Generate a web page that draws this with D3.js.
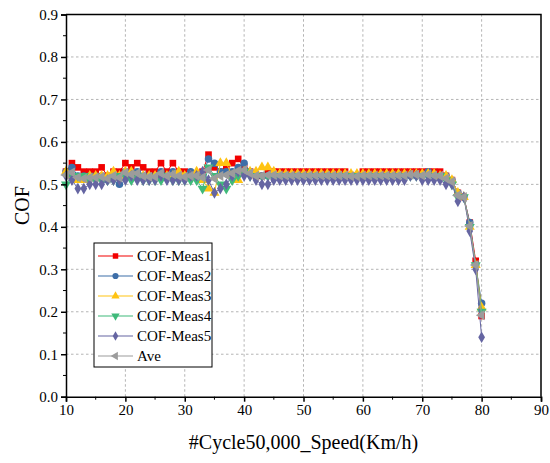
<!DOCTYPE html>
<html lang="en">
<head>
<meta charset="UTF-8">
<title>COF</title>
<style>
    body { margin: 0; background: #fff; }
    svg { display: block; }
</style>
</head>
<body>
<script src="https://d3js.org/d3.v7.min.js"></script>
<script>
    const width = 550
    const height = 463
    const margin = { left: 66, right: 9, top: 14.5, bottom: 66.3 }
    const serif = 'Liberation Serif, Times New Roman, serif'

    // speeds 10..80 km/h, one point per km/h
    const speeds = [10, 11, 12, 13, 14, 15, 16, 17, 18, 19, 20, 21, 22, 23, 24, 25, 26, 27, 28, 29,
        30, 31, 32, 33, 34, 35, 36, 37, 38, 39, 40, 41, 42, 43, 44, 45, 46, 47, 48, 49,
        50, 51, 52, 53, 54, 55, 56, 57, 58, 59, 60, 61, 62, 63, 64, 65, 66, 67, 68, 69,
        70, 71, 72, 73, 74, 75, 76, 77, 78, 79, 80]

    const meas1 = [0.53, 0.55, 0.54, 0.53, 0.53, 0.53, 0.54, 0.52, 0.53, 0.53, 0.55, 0.54, 0.55, 0.54, 0.53, 0.53, 0.55, 0.53, 0.55, 0.53,
        0.53, 0.52, 0.52, 0.53, 0.57, 0.54, 0.53, 0.54, 0.55, 0.56, 0.54, 0.53, 0.52, 0.52, 0.53, 0.53, 0.53, 0.53, 0.53, 0.53,
        0.53, 0.53, 0.53, 0.53, 0.53, 0.53, 0.53, 0.53, 0.52, 0.52, 0.53, 0.53, 0.53, 0.53, 0.53, 0.53, 0.53, 0.53, 0.53, 0.53,
        0.53, 0.53, 0.53, 0.53, 0.52, 0.51, 0.48, 0.47, 0.41, 0.32, 0.19]
    const meas2 = [0.53, 0.54, 0.52, 0.52, 0.52, 0.52, 0.52, 0.51, 0.52, 0.50, 0.53, 0.52, 0.53, 0.52, 0.52, 0.52, 0.53, 0.52, 0.53, 0.52,
        0.52, 0.53, 0.52, 0.52, 0.56, 0.55, 0.53, 0.53, 0.53, 0.54, 0.55, 0.53, 0.52, 0.52, 0.52, 0.52, 0.52, 0.52, 0.52, 0.52,
        0.52, 0.52, 0.52, 0.52, 0.52, 0.52, 0.52, 0.52, 0.52, 0.52, 0.52, 0.52, 0.52, 0.52, 0.52, 0.52, 0.52, 0.52, 0.52, 0.52,
        0.52, 0.53, 0.52, 0.52, 0.52, 0.51, 0.48, 0.47, 0.41, 0.31, 0.22]
    const meas3 = [0.53, 0.52, 0.51, 0.51, 0.52, 0.52, 0.52, 0.52, 0.53, 0.52, 0.53, 0.53, 0.52, 0.52, 0.52, 0.52, 0.52, 0.52, 0.52, 0.53,
        0.52, 0.52, 0.53, 0.51, 0.49, 0.48, 0.55, 0.55, 0.52, 0.51, 0.53, 0.53, 0.53, 0.54, 0.54, 0.53, 0.525, 0.525, 0.525, 0.525,
        0.525, 0.525, 0.525, 0.525, 0.525, 0.525, 0.525, 0.525, 0.525, 0.525, 0.525, 0.525, 0.525, 0.525, 0.525, 0.525, 0.525, 0.525, 0.525, 0.525,
        0.525, 0.525, 0.525, 0.52, 0.52, 0.51, 0.48, 0.47, 0.40, 0.31, 0.21]
    const meas4 = [0.50, 0.52, 0.52, 0.52, 0.51, 0.51, 0.51, 0.51, 0.51, 0.52, 0.52, 0.51, 0.52, 0.51, 0.51, 0.51, 0.51, 0.52, 0.51, 0.51,
        0.51, 0.51, 0.51, 0.49, 0.54, 0.52, 0.50, 0.49, 0.51, 0.52, 0.53, 0.52, 0.52, 0.52, 0.52, 0.52, 0.52, 0.52, 0.52, 0.52,
        0.52, 0.52, 0.52, 0.52, 0.52, 0.52, 0.52, 0.52, 0.52, 0.52, 0.52, 0.52, 0.52, 0.52, 0.52, 0.52, 0.52, 0.52, 0.52, 0.52,
        0.52, 0.52, 0.52, 0.52, 0.51, 0.50, 0.47, 0.47, 0.40, 0.31, 0.20]
    const meas5 = [0.52, 0.51, 0.49, 0.49, 0.50, 0.50, 0.50, 0.51, 0.51, 0.51, 0.51, 0.52, 0.51, 0.51, 0.51, 0.51, 0.52, 0.51, 0.51, 0.51,
        0.51, 0.52, 0.52, 0.53, 0.51, 0.48, 0.49, 0.50, 0.52, 0.53, 0.52, 0.52, 0.51, 0.50, 0.50, 0.51, 0.51, 0.51, 0.51, 0.51,
        0.51, 0.51, 0.51, 0.51, 0.51, 0.51, 0.51, 0.51, 0.51, 0.51, 0.51, 0.51, 0.51, 0.51, 0.51, 0.51, 0.51, 0.51, 0.52, 0.52,
        0.51, 0.51, 0.51, 0.51, 0.50, 0.50, 0.46, 0.47, 0.39, 0.30, 0.14]
    const ave = [0.522, 0.528, 0.516, 0.514, 0.516, 0.516, 0.518, 0.514, 0.520, 0.516, 0.528, 0.524, 0.526, 0.520, 0.518, 0.518, 0.526, 0.520, 0.524, 0.520,
        0.518, 0.520, 0.520, 0.516, 0.534, 0.514, 0.520, 0.522, 0.526, 0.532, 0.534, 0.526, 0.520, 0.520, 0.522, 0.522, 0.521, 0.521, 0.521, 0.521,
        0.521, 0.521, 0.521, 0.521, 0.521, 0.521, 0.521, 0.521, 0.519, 0.519, 0.521, 0.521, 0.521, 0.521, 0.521, 0.521, 0.521, 0.521, 0.523, 0.523,
        0.521, 0.523, 0.521, 0.520, 0.514, 0.506, 0.474, 0.470, 0.402, 0.310, 0.192]

    const seriesNames = ['COF-Meas1', 'COF-Meas2', 'COF-Meas3', 'COF-Meas4', 'COF-Meas5', 'Ave']
    const seriesValues = [meas1, meas2, meas3, meas4, meas5, ave]
    const colors = ['#f20000', '#3d6ea8', '#ffc312', '#3fba7a', '#6565a2', '#9c9c9c']
    const shapes = ['square', 'circle', 'up', 'down', 'diamond', 'left']

    const xTicks = [10, 20, 30, 40, 50, 60, 70, 80, 90]
    const yTicks = [0.0, 0.1, 0.2, 0.3, 0.4, 0.5, 0.6, 0.7, 0.8, 0.9]

    const x = d3.scaleLinear().domain([10, 90]).range([margin.left, width - margin.right])
    const y = d3.scaleLinear().domain([0, 0.9]).range([height - margin.bottom, margin.top])

    const svg = d3.select('body').append('svg')
        .attr('width', width)
        .attr('height', height)
        .attr('font-family', serif)

    drawGrid()
    drawSeries()
    drawAxes()
    drawLegend()

    function markerPath(shape, size) {
        switch (shape) {
            case 'square': return d3.symbol().type(d3.symbolSquare).size(size)()
            case 'circle': return d3.symbol().type(d3.symbolCircle).size(size)()
            case 'diamond': return d3.symbol().type(d3.symbolDiamond).size(size * 0.9)()
            default: return d3.symbol().type(d3.symbolTriangle).size(size)()
        }
    }

    function markerRotate(shape) {
        if (shape === 'down') return 180
        if (shape === 'left') return -90
        return 0
    }

    function drawGrid() {
        const g = svg.append('g').attr('class', 'grid')
            .attr('stroke', '#b4b4b4')
            .attr('stroke-width', 1)
            .attr('stroke-dasharray', '2.5,2.5')
        g.selectAll('.gx')
            .data(xTicks.slice(1, -1))
            .join('line')
            .attr('class', 'gx')
            .attr('x1', d => x(d)).attr('x2', d => x(d))
            .attr('y1', y(0)).attr('y2', y(0.9))
        g.selectAll('.gy')
            .data(yTicks.slice(1, -1))
            .join('line')
            .attr('class', 'gy')
            .attr('y1', d => y(d)).attr('y2', d => y(d))
            .attr('x1', x(10)).attr('x2', x(90))
    }

    function drawSeries() {
        const line = d3.line()
            .x((d, i) => x(speeds[i]))
            .y(d => y(d))

        seriesValues.forEach((vals, s) => {
            const g = svg.append('g').attr('class', 'series')
            g.append('path')
                .attr('d', line(vals))
                .attr('fill', 'none')
                .attr('stroke', colors[s])
                .attr('stroke-width', 1)
            g.selectAll('path.mk')
                .data(vals)
                .join('path')
                .attr('class', 'mk')
                .attr('d', markerPath(shapes[s], 44))
                .attr('transform', (d, i) => `translate(${x(speeds[i])},${y(d)}) rotate(${markerRotate(shapes[s])})`)
                .attr('fill', colors[s])
        })
    }

    function drawAxes() {
        const xAxis = d3.axisBottom(x)
            .tickValues(xTicks)
            .tickSize(5)
            .tickPadding(3)
            .tickFormat(d3.format('d'))
        const gx = svg.append('g')
            .attr('transform', `translate(0,${y(0)})`)
            .call(xAxis)
            .attr('font-family', serif)
            .attr('font-size', 15)
        gx.append('g').selectAll('line')
            .data(d3.range(15, 90, 10))
            .join('line')
            .attr('x1', d => x(d)).attr('x2', d => x(d))
            .attr('y1', 0).attr('y2', 3)
            .attr('stroke', '#000')

        const yAxis = d3.axisLeft(y)
            .tickValues(yTicks)
            .tickSize(5)
            .tickPadding(3)
            .tickFormat(d3.format('.1f'))
        const gy = svg.append('g')
            .attr('transform', `translate(${x(10)},0)`)
            .call(yAxis)
            .attr('font-family', serif)
            .attr('font-size', 15)
        gy.append('g').selectAll('line')
            .data(d3.range(0.05, 0.9, 0.1))
            .join('line')
            .attr('y1', d => y(d)).attr('y2', d => y(d))
            .attr('x1', 0).attr('x2', -3)
            .attr('stroke', '#000')

        svg.selectAll('.domain').attr('stroke-width', 1.5)
        svg.selectAll('.tick line').attr('stroke-width', 1.5)

        // top and right frame
        svg.append('path')
            .attr('d', `M${x(10)},${y(0.9)}H${x(90)}V${y(0)}`)
            .attr('fill', 'none')
            .attr('stroke', '#000')
            .attr('stroke-width', 1.5)

        svg.append('text')
            .attr('x', (x(10) + x(90)) / 2)
            .attr('y', 449)
            .attr('text-anchor', 'middle')
            .attr('font-size', 20)
            .text('#Cycle50,000_Speed(Km/h)')

        svg.append('text')
            .attr('transform', `translate(29,${(y(0) + y(0.9)) / 2}) rotate(-90)`)
            .attr('text-anchor', 'middle')
            .attr('font-size', 20)
            .text('COF')
    }

    function drawLegend() {
        const lx = 94, ly = 243, lw = 118, lh = 124, step = 20
        const g = svg.append('g').attr('class', 'legend')
        g.append('rect')
            .attr('x', lx).attr('y', ly)
            .attr('width', lw).attr('height', lh)
            .attr('fill', '#fff')
            .attr('stroke', '#000')
            .attr('stroke-width', 1)

        const item = g.selectAll('.item')
            .data(seriesNames)
            .join('g')
            .attr('class', 'item')
            .attr('transform', (d, i) => `translate(${lx}, ${ly + 13 + i * step})`)
        item.append('line')
            .attr('x1', 4).attr('x2', 39)
            .attr('stroke', (d, i) => colors[i])
            .attr('stroke-width', 1.2)
        item.append('path')
            .attr('d', (d, i) => markerPath(shapes[i], 30))
            .attr('transform', (d, i) => `translate(21.5,0) rotate(${markerRotate(shapes[i])})`)
            .attr('fill', (d, i) => colors[i])
        item.append('text')
            .attr('x', 43)
            .attr('dy', '0.35em')
            .attr('font-size', 15)
            .text(d => d)
    }
</script>
</body>
</html>
